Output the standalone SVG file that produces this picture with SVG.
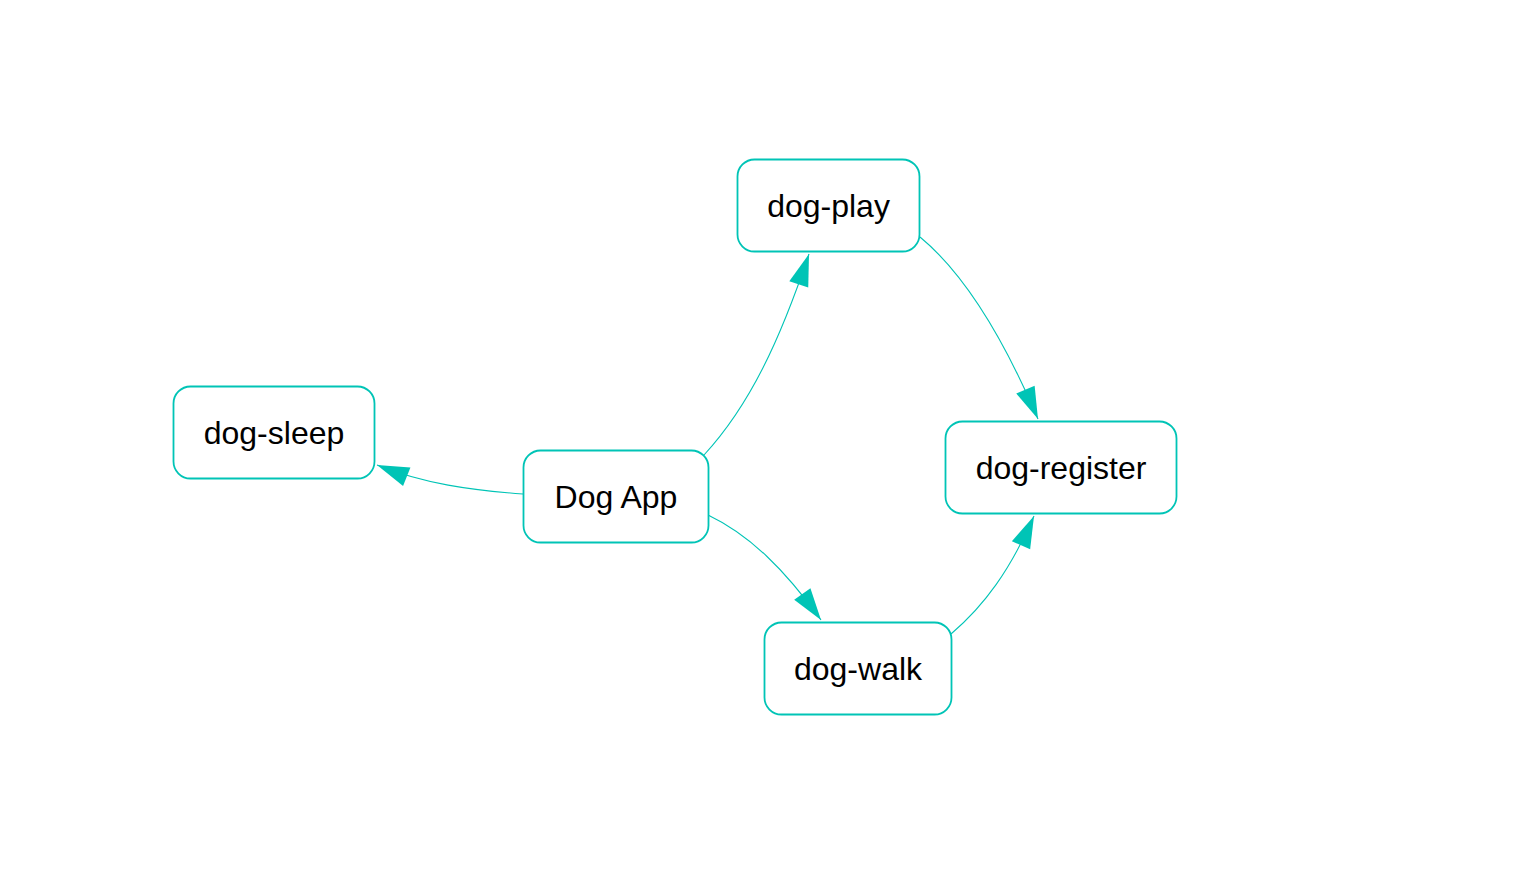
<svg xmlns="http://www.w3.org/2000/svg" width="1519" height="880" viewBox="0 0 1519 880">
<style>
.node rect{fill:#ffffff;stroke:#00c4b6;stroke-width:1.8}
.node text{font-family:"Liberation Sans",Arial,sans-serif;font-size:32px;fill:#000;text-anchor:middle;dominant-baseline:central}
.edge{fill:none;stroke:#00c4b6;stroke-width:1.1}
</style>
<defs>
<marker id="arr" markerUnits="userSpaceOnUse" markerWidth="40" markerHeight="30" refX="32" refY="0" orient="auto" viewBox="0 -15 40 30" overflow="visible">
<path d="M0,-10 L32,0 L0,10 Z" fill="#00c4b6"/>
</marker>
</defs>
<rect width="1519" height="880" fill="#ffffff"/>
<g id="connectors">
<path class="edge" d="M523,494 C470,490 425,484 377,465" marker-end="url(#arr)"/>
<path class="edge" d="M704,455 C750,405 780,340 809,254" marker-end="url(#arr)"/>
<path class="edge" d="M920,237 C960,270 1000,330 1038,419" marker-end="url(#arr)"/>
<path class="edge" d="M708,515 C750,535 785,570 821,620" marker-end="url(#arr)"/>
<path class="edge" d="M951,634 C985,605 1010,570 1034,516" marker-end="url(#arr)"/>
</g>
<g id="node-dogapp" class="node"><rect x="523.5" y="450.5" width="185" height="92" rx="17"/><text x="616" y="497">Dog App</text></g>
<g id="node-dogsleep" class="node"><rect x="173.5" y="386.5" width="201" height="92" rx="17"/><text x="274" y="433">dog-sleep</text></g>
<g id="node-dogplay" class="node"><rect x="737.5" y="159.5" width="182" height="92" rx="17"/><text x="828.5" y="206">dog-play</text></g>
<g id="node-dogregister" class="node"><rect x="945.5" y="421.5" width="231" height="92" rx="17"/><text x="1061" y="468">dog-register</text></g>
<g id="node-dogwalk" class="node"><rect x="764.5" y="622.5" width="187" height="92" rx="17"/><text x="858" y="669">dog-walk</text></g>
</svg>
